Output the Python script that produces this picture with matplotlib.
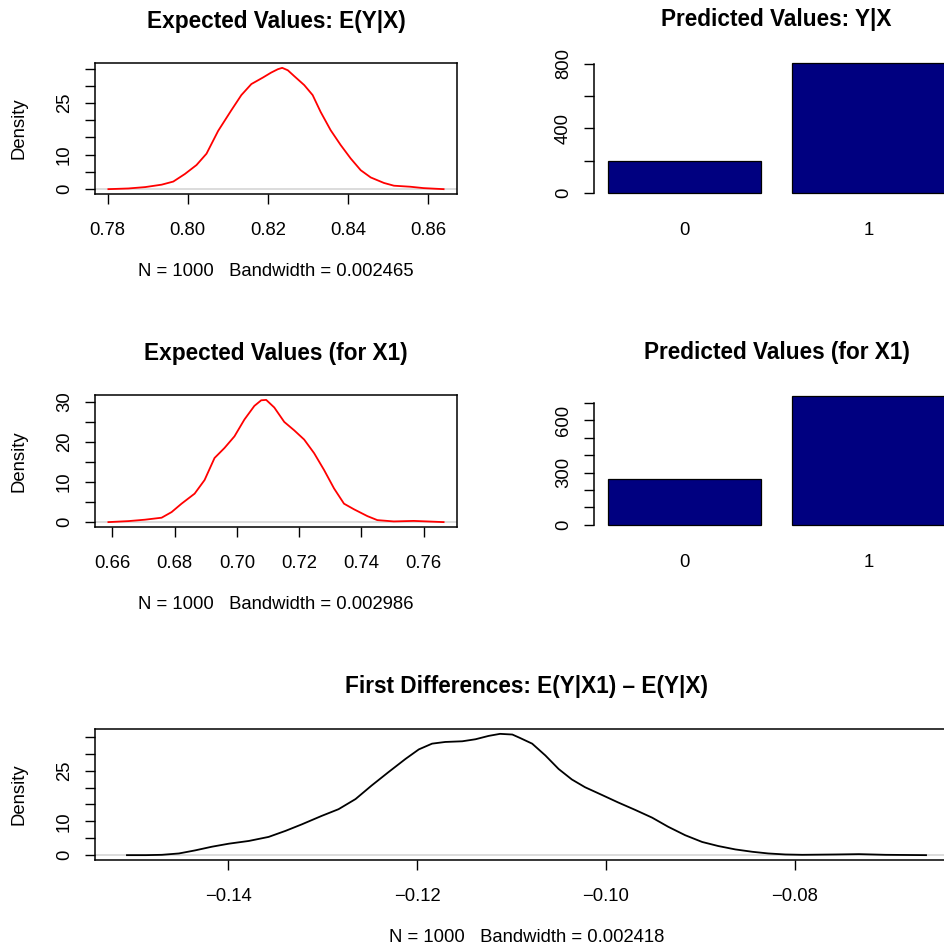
import matplotlib
matplotlib.use("Agg")
import matplotlib.pyplot as plt
import numpy as np

plt.rcParams["font.family"] = ["Liberation Sans", "DejaVu Sans"]
plt.rcParams["font.size"] = 13.3

# expected values E(Y|X), density
ev_x = [0.7802, 0.7852, 0.7894, 0.7935, 0.7964, 0.7993, 0.8022, 0.8047, 0.8076, 0.8109,
        0.8134, 0.8159, 0.8188, 0.8208, 0.8225, 0.8236, 0.8250, 0.8266, 0.8291, 0.8312,
        0.8332, 0.8357, 0.8382, 0.8407, 0.8432, 0.8457, 0.8490, 0.8515, 0.8556, 0.8589, 0.8639]
ev_y = [0.0, 0.2, 0.6, 1.3, 2.2, 4.4, 7.0, 10.3, 16.9, 22.9,
        27.3, 30.5, 32.4, 33.8, 34.8, 35.2, 34.5, 32.8, 30.2, 27.3,
        22.4, 17.1, 12.8, 8.9, 5.5, 3.4, 1.8, 1.0, 0.7, 0.3, 0.0]

# expected values for X1
ev1_x = [0.6587, 0.6651, 0.6704, 0.6758, 0.6790, 0.6822, 0.6864, 0.6896, 0.6928, 0.6960,
         0.6992, 0.7024, 0.7056, 0.7078, 0.7094, 0.7120, 0.7152, 0.7184, 0.7216, 0.7248,
         0.7280, 0.7312, 0.7344, 0.7376, 0.7419, 0.7451, 0.7504, 0.7568, 0.7611, 0.7664]
ev1_y = [0.0, 0.25, 0.6, 1.1, 2.5, 4.6, 7.1, 10.5, 16.0, 18.5,
         21.4, 25.6, 29.0, 30.4, 30.5, 28.6, 25.0, 22.9, 20.6, 17.2,
         13.0, 8.4, 4.6, 3.2, 1.5, 0.5, 0.17, 0.3, 0.17, 0.0]

# first differences E(Y|X1) - E(Y|X)
fd_x = [-0.1507, -0.1487, -0.1470, -0.1452, -0.1435, -0.1417, -0.1399, -0.1378, -0.1357, -0.1339,
        -0.1322, -0.1301, -0.1283, -0.1265, -0.1248, -0.1230, -0.1212, -0.1198, -0.1184, -0.1170,
        -0.1152, -0.1138, -0.1124, -0.1112, -0.1099, -0.1091, -0.1078, -0.1064, -0.1050, -0.1036,
        -0.1022, -0.1004, -0.0987, -0.0969, -0.0951, -0.0934, -0.0916, -0.0898, -0.0881, -0.0863,
        -0.0845, -0.0828, -0.0810, -0.0792, -0.0757, -0.0732, -0.0704, -0.0661]
fd_y = [0.0, 0.0, 0.1, 0.5, 1.4, 2.5, 3.4, 4.2, 5.4, 7.2,
        9.1, 11.6, 13.6, 16.6, 20.6, 24.6, 28.5, 31.3, 33.0, 33.5,
        33.7, 34.3, 35.3, 35.9, 35.7, 34.7, 33.0, 29.5, 25.5, 22.4,
        20.1, 17.8, 15.6, 13.4, 11.1, 8.4, 5.9, 3.9, 2.7, 1.7,
        1.0, 0.5, 0.2, 0.1, 0.2, 0.3, 0.1, 0.0]

pv_labels = ["0", "1"]
pv_counts = [196, 804]
pv1_counts = [261, 739]

W, H = 944, 946
fig = plt.figure(figsize=(W / 100, H / 100), dpi=100)


def box(x0, y0, x1, y1):
    # pixel box -> figure fraction
    return [x0 / W, 1 - y1 / H, (x1 - x0) / W, (y1 - y0) / H]


def density_panel(rect, x, y, color, title, sub, xticks, yticks, ylabs, tpad=25):
    ax = fig.add_axes(rect)
    ax.axhline(0, color="#d6d6d6", lw=1.2, zorder=1)
    ax.plot(x, y, color=color, lw=1.3, zorder=2)
    ax.margins(x=0.04, y=0.04)
    ax.set_xticks(xticks)
    ax.set_xticklabels(["{:.2f}".format(v).replace("-", "\u2212") for v in xticks])
    ax.set_yticks(yticks)
    ax.set_yticklabels(ylabs, rotation=90, va="center")
    ax.tick_params(length=7, width=1, pad=13, direction="out")
    ax.tick_params(axis="y", pad=9)
    for s in ax.spines.values():
        s.set_linewidth(1.1)
    ax.set_title(title, fontweight="bold", fontsize=16.3, pad=tpad)
    ax.set_xlabel(sub, labelpad=17.5)
    ax.set_ylabel("Density", labelpad=20)
    return ax


def bar_panel(rect, counts, title, yticks, ylabs):
    ax = fig.add_axes(rect)
    pos = [0.2 + 1.2 * i for i in range(len(counts))]
    ax.bar(pos, counts, width=1, align="edge", color="#000080", edgecolor="black", lw=0.9)
    span = pos[-1] + 1 - pos[0]
    ax.set_xlim(pos[0] - 0.04 * span, pos[-1] + 1 + 0.04 * span)
    ax.set_ylim(-0.04 * max(counts), 1.04 * max(counts))
    ax.set_xticks([p + 0.5 for p in pos])
    ax.set_xticklabels(pv_labels)
    ax.tick_params(axis="x", length=0, pad=17)
    ax.set_yticks(yticks)
    ax.set_yticklabels(ylabs, rotation=90, va="center")
    ax.tick_params(axis="y", length=7, width=1, pad=9)
    for s in ["top", "right", "bottom"]:
        ax.spines[s].set_visible(False)
    ax.spines["left"].set_bounds(yticks[0], yticks[-1])
    ax.spines["left"].set_linewidth(1.1)
    ax.set_title(title, fontweight="bold", fontsize=16.3, pad=23)
    return ax


density_panel(box(95, 63, 457, 194), ev_x, ev_y, "red", "Expected Values: E(Y|X)",
              "N = 1000   Bandwidth = 0.002465",
              [0.78, 0.80, 0.82, 0.84, 0.86],
              [0, 5, 10, 15, 20, 25, 30, 35], ["0", "", "10", "", "", "25", "", ""])
bar_panel(box(594, 58, 959, 198), pv_counts, "Predicted Values: Y|X",
          [0, 200, 400, 600, 800], ["0", "", "400", "", "800"])

density_panel(box(95, 395, 457, 527), ev1_x, ev1_y, "red", "Expected Values (for X1)",
              "N = 1000   Bandwidth = 0.002986",
              [0.66, 0.68, 0.70, 0.72, 0.74, 0.76],
              [0, 5, 10, 15, 20, 25, 30], ["0", "", "10", "", "20", "", "30"])
bar_panel(box(594, 391, 959, 530), pv1_counts, "Predicted Values (for X1)",
          [0, 100, 200, 300, 400, 500, 600, 700], ["0", "", "", "300", "", "", "600", ""])

density_panel(box(95, 729, 958, 860), fd_x, fd_y, "black",
              "First Differences: E(Y|X1) \u2013 E(Y|X)",
              "N = 1000   Bandwidth = 0.002418",
              [-0.14, -0.12, -0.10, -0.08],
              [0, 5, 10, 15, 20, 25, 30, 35], ["0", "", "10", "", "", "25", "", ""], tpad=26)

fig.savefig("out.png", dpi=100)
